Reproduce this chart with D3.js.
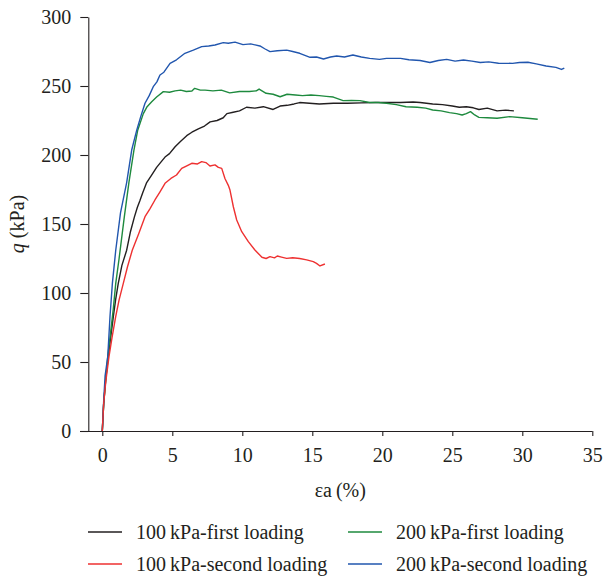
<!DOCTYPE html>
<html>
<head>
<meta charset="utf-8">
<script src="https://cdn.jsdelivr.net/npm/d3@7"></script>
<style>
  html, body { margin: 0; padding: 0; background: #fff; }
  svg { display: block; }
</style>
</head>
<body>
<svg id="chart" width="613" height="578"></svg>
<script>
// ---- data ----
const xTicks = [0, 5, 10, 15, 20, 25, 30, 35];
const yTicks = [0, 50, 100, 150, 200, 250, 300];

const strainBlack = [0, 0.1, 0.25, 0.43, 0.6, 0.79, 0.95, 1.14, 1.4, 1.74, 2.0, 2.29, 2.5, 2.69, 2.9, 3.17, 3.5, 3.88, 4.2, 4.48, 4.8, 5.2, 5.6, 6.03, 6.4, 6.86, 7.3, 7.7, 8.2, 8.64, 8.9, 9.35, 9.8, 10.3, 10.9, 11.5, 12.2, 12.7, 13.2, 13.7, 14.1, 14.8, 15.5, 16.5, 17.5, 18.5, 19.5, 20.3, 21.3, 22.2, 22.7, 23.6, 24.3, 25.0, 25.5, 26.0, 26.5, 26.9, 27.5, 28.2, 28.8, 29.4];
const qBlack = [0, 20, 38, 54, 68, 83, 95, 107, 120, 131, 144, 155, 162, 167, 173, 180, 185, 191, 195, 198.5, 201, 206, 210, 214, 216.5, 219, 221, 224, 225, 227, 230, 231, 232, 234.6, 234, 235, 233, 235.5, 236, 237, 238, 237.5, 237, 237.5, 237.5, 237.8, 238, 238, 238, 238.4, 238, 237, 236.5, 235.5, 234.6, 235, 234.2, 233, 234, 232, 232.5, 232];

const strainGreen = [0, 0.1, 0.25, 0.39, 0.6, 0.78, 0.96, 1.2, 1.57, 1.9, 2.26, 2.53, 2.93, 3.2, 3.53, 3.88, 4.36, 4.8, 5.2, 5.6, 6.0, 6.4, 6.6, 7.0, 7.34, 7.9, 8.5, 9.1, 9.8, 10.5, 11.0, 11.2, 11.7, 12.2, 12.7, 13.2, 13.8, 14.3, 14.9, 15.5, 16.0, 16.5, 17.2, 17.8, 18.4, 19.1, 19.7, 20.3, 21.0, 21.7, 22.5, 23.1, 23.6, 24.2, 24.8, 25.3, 25.7, 26.0, 26.3, 26.6, 26.9, 27.5, 28.2, 29.1, 30.0, 31.1];
const qGreen = [0, 20, 38, 54, 72, 88, 107, 125, 155, 180, 203.6, 218, 230, 235, 238.6, 242, 245.9, 245.5, 246.5, 247, 246, 246.4, 248.3, 247, 247, 246.5, 247, 245, 246, 246, 246.5, 247.8, 244.7, 244, 242.2, 244, 243.5, 243, 243.5, 243, 242.5, 242, 239.4, 239.5, 239.4, 238, 238, 237.5, 236.5, 235, 234.6, 234, 232.6, 232, 230.7, 230, 229, 230, 231.4, 229, 227.3, 227, 226.6, 227.8, 227, 225.9];

const strainRed = [0, 0.1, 0.25, 0.48, 0.7, 0.96, 1.2, 1.5, 1.8, 2.14, 2.6, 3.05, 3.4, 3.76, 4.1, 4.48, 4.9, 5.3, 5.67, 6.0, 6.39, 6.8, 7.1, 7.4, 7.69, 8.05, 8.29, 8.53, 8.76, 9.0, 9.12, 9.36, 9.6, 9.96, 10.43, 10.9, 11.4, 11.7, 11.98, 12.3, 12.5, 12.8, 13.17, 13.6, 14.1, 14.6, 15.07, 15.3, 15.55, 15.9];
const qRed = [0, 20, 36, 54, 68, 83, 95, 107, 119, 131, 143, 155.3, 161, 167.4, 173, 179.5, 183, 185.5, 190.3, 192, 194, 193.5, 195.2, 194.5, 192, 192.8, 191, 190.3, 183, 178, 174.6, 162.5, 152.9, 144.4, 137.2, 131.2, 125.9, 125, 126.4, 125.5, 126.8, 126, 125.1, 125.5, 125, 124, 122.7, 121.5, 119.6, 121];

const strainBlue = [0, 0.1, 0.2, 0.39, 0.55, 0.72, 0.96, 1.3, 1.74, 2.1, 2.46, 2.75, 3.05, 3.35, 3.64, 3.9, 4.12, 4.4, 4.84, 5.3, 5.9, 6.5, 7.1, 7.6, 8.05, 8.64, 9.0, 9.48, 10.05, 10.6, 11.26, 11.6, 11.98, 12.5, 13.17, 13.6, 14.1, 14.84, 15.3, 15.8, 16.3, 16.74, 17.3, 17.9, 18.5, 19.1, 19.8, 20.3, 21.3, 21.9, 22.7, 23.4, 24.0, 24.6, 25.2, 25.8, 26.4, 27.0, 27.6, 28.3, 29.3, 29.8, 30.4, 31.0, 31.7, 32.4, 32.8, 33.0];
const qBlue = [0, 22, 40, 54, 83, 107, 131, 158, 180, 203.6, 218, 228, 237.5, 243, 249.5, 253, 258, 260, 266.4, 269, 273.7, 276, 278.5, 279, 279.7, 281.4, 281, 281.8, 280, 280.5, 279, 277, 274.9, 275.5, 276, 275, 273.7, 270.8, 271, 269.6, 271, 271.7, 271, 272.5, 271, 270, 269.3, 270, 270, 269, 268.5, 267, 268.5, 269.3, 268, 268.8, 268, 267, 267.5, 266.5, 266.4, 267, 267.2, 266, 264.5, 263.5, 262, 263];

const seriesNames = ["100\u2009kPa-first loading", "200\u2009kPa-first loading", "100\u2009kPa-second loading", "200\u2009kPa-second loading"];
const seriesColors = ["#231f20", "#1e8a3e", "#ee3131", "#2156ae"];

// ---- layout ----
const FONT = "'Liberation Serif', 'Times New Roman', serif";
const FS = 20;
const svg = d3.select("#chart");
const x = d3.scaleLinear().domain([-1, 35]).range([88.3, 592.3]);
const y = d3.scaleLinear().domain([0, 300]).range([431, 17]);

const series = [
  { name: seriesNames[0], color: seriesColors[0], xs: strainBlack, ys: qBlack },
  { name: seriesNames[1], color: seriesColors[1], xs: strainGreen, ys: qGreen },
  { name: seriesNames[2], color: seriesColors[2], xs: strainRed, ys: qRed },
  { name: seriesNames[3], color: seriesColors[3], xs: strainBlue, ys: qBlue }
];

const axisColor = "#231f20";

// X axis (major + minor ticks)
const gx = svg.append("g").attr("transform", "translate(0,431)");
gx.call(d3.axisBottom(x).tickValues(d3.range(2.5, 35, 5)).tickSize(4).tickFormat(""))
  .call(g => g.select(".domain").remove());
gx.call(d3.axisBottom(x).tickValues(xTicks).tickSize(5).tickSizeOuter(0).tickPadding(12).tickFormat(d3.format("d")));
gx.selectAll("line, path").attr("stroke", axisColor).attr("stroke-width", 1.1);
gx.select(".domain").attr("d", `M${80},0.5H${x(35)}`);

// Y axis
const gy = svg.append("g").attr("transform", "translate(88.3,0)");
gy.call(d3.axisLeft(y).tickValues(d3.range(25, 300, 50)).tickSize(4).tickFormat(""))
  .call(g => g.select(".domain").remove());
gy.call(d3.axisLeft(y).tickValues(yTicks).tickSize(8).tickSizeOuter(0).tickPadding(9).tickFormat(d3.format("d")));
gy.selectAll("line, path").attr("stroke", axisColor).attr("stroke-width", 1.1);

[gx, gy].forEach(g => {
  g.attr("font-family", null).attr("font-size", null);
  g.selectAll("text").attr("font-size", FS).attr("fill", axisColor).style("font-family", FONT);
});

// Axis titles
svg.append("text")
  .attr("x", x(17)).attr("y", 497)
  .attr("text-anchor", "middle").attr("font-size", FS).attr("fill", axisColor)
  .style("font-family", FONT)
  .text("\u03B5a\u2009(%)");

const yt = svg.append("text")
  .attr("transform", "translate(24,224) rotate(-90)")
  .attr("text-anchor", "middle").attr("font-size", FS).attr("fill", axisColor)
  .style("font-family", FONT);
yt.append("tspan").attr("font-style", "italic").text("q");
yt.append("tspan").text(" (kPa)");

// Lines
const line = d3.line().x(d => x(d[0])).y(d => y(d[1])).curve(d3.curveLinear);
svg.append("g").selectAll("path")
  .data([series[0], series[1], series[3], series[2]])
  .join("path")
  .attr("d", s => line(s.xs.map((v, i) => [v, s.ys[i]])))
  .attr("fill", "none")
  .attr("stroke", s => s.color)
  .attr("stroke-width", 1.4)
  .attr("stroke-linejoin", "round");

// Legend
const legPos = [[88, 532], [348, 532], [88, 564], [348, 564]];
const leg = svg.append("g");
series.forEach((s, i) => {
  const [lx, ly] = legPos[i];
  leg.append("line")
    .attr("x1", lx).attr("x2", lx + 34)
    .attr("y1", ly).attr("y2", ly)
    .attr("stroke", s.color).attr("stroke-width", 1.4);
  leg.append("text")
    .attr("x", lx + 48).attr("y", ly + 7)
    .attr("font-size", FS).attr("fill", axisColor)
    .style("font-family", FONT)
    .text(s.name);
});
</script>
</body>
</html>
